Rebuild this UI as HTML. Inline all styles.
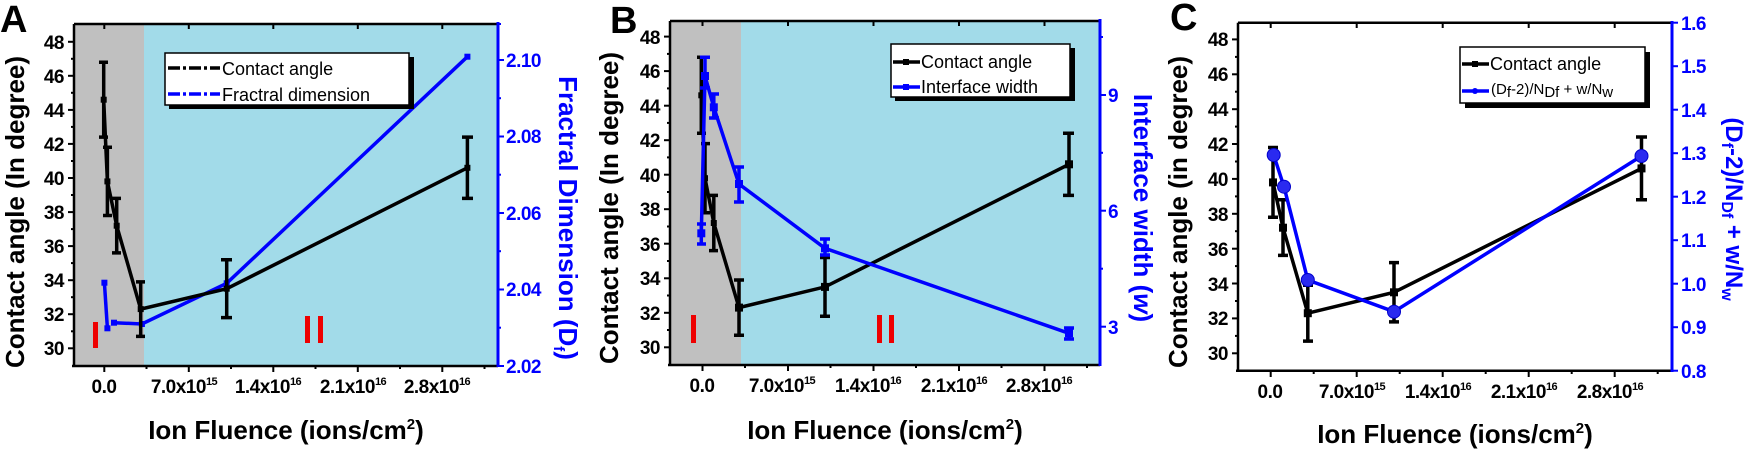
<!DOCTYPE html>
<html><head><meta charset="utf-8"><style>
html,body{margin:0;padding:0;background:#fff;}
svg{display:block;font-family:"Liberation Sans",Arial,sans-serif;}
.tk{font-size:19px;font-weight:bold;letter-spacing:-0.5px;}
.tt{font-size:26px;font-weight:bold;}
.lg{font-size:18px;}
</style></head><body>
<svg width="1750" height="449" viewBox="0 0 1750 449" xmlns="http://www.w3.org/2000/svg">
<!-- ================= PANEL A ================= -->
<rect x="74" y="24" width="70" height="342" fill="#c0c0c0"/>
<rect x="144" y="24" width="354" height="342" fill="#a2dbe9"/>
<text x="0" y="32" font-size="38" font-weight="bold">A</text>
<rect x="93" y="322" width="5" height="26" fill="#e00"/>
<rect x="305" y="316" width="5" height="27" fill="#e00"/>
<rect x="318" y="316" width="5" height="27" fill="#e00"/>
<g stroke="#000" stroke-width="2.5" fill="none">
<line x1="74" y1="24" x2="74" y2="367"/>
<line x1="72" y1="366" x2="498" y2="366"/>
<line x1="74" y1="24" x2="498" y2="24"/>
</g>
<line x1="498" y1="22" x2="498" y2="367" stroke="#00f" stroke-width="3"/>
<g stroke="#000" stroke-width="2">
<line x1="68" y1="348.3" x2="74" y2="348.3"/><line x1="68" y1="314.2" x2="74" y2="314.2"/><line x1="68" y1="280.2" x2="74" y2="280.2"/><line x1="68" y1="246.1" x2="74" y2="246.1"/><line x1="68" y1="212.1" x2="74" y2="212.1"/><line x1="68" y1="178" x2="74" y2="178"/><line x1="68" y1="143.9" x2="74" y2="143.9"/><line x1="68" y1="109.9" x2="74" y2="109.9"/><line x1="68" y1="75.8" x2="74" y2="75.8"/><line x1="68" y1="41.8" x2="74" y2="41.8"/>
<line x1="71" y1="331.3" x2="74" y2="331.3"/><line x1="71" y1="297.2" x2="74" y2="297.2"/><line x1="71" y1="263.1" x2="74" y2="263.1"/><line x1="71" y1="229.1" x2="74" y2="229.1"/><line x1="71" y1="195" x2="74" y2="195"/><line x1="71" y1="161" x2="74" y2="161"/><line x1="71" y1="126.9" x2="74" y2="126.9"/><line x1="71" y1="92.8" x2="74" y2="92.8"/><line x1="71" y1="58.8" x2="74" y2="58.8"/>
<line x1="104.3" y1="366" x2="104.3" y2="372"/><line x1="188.8" y1="366" x2="188.8" y2="372"/><line x1="273.3" y1="366" x2="273.3" y2="372"/><line x1="357.8" y1="366" x2="357.8" y2="372"/><line x1="442.3" y1="366" x2="442.3" y2="372"/>
<line x1="146.5" y1="366" x2="146.5" y2="369"/><line x1="231" y1="366" x2="231" y2="369"/><line x1="315.5" y1="366" x2="315.5" y2="369"/><line x1="400" y1="366" x2="400" y2="369"/><line x1="484.5" y1="366" x2="484.5" y2="369"/>
<line x1="104.3" y1="24" x2="104.3" y2="29"/><line x1="188.8" y1="24" x2="188.8" y2="29"/><line x1="273.3" y1="24" x2="273.3" y2="29"/><line x1="357.8" y1="24" x2="357.8" y2="29"/><line x1="442.3" y1="24" x2="442.3" y2="29"/>
</g>
<g stroke="#00f" stroke-width="2">
<line x1="498" y1="366" x2="504" y2="366"/><line x1="498" y1="289.5" x2="504" y2="289.5"/><line x1="498" y1="213" x2="504" y2="213"/><line x1="498" y1="136.5" x2="504" y2="136.5"/><line x1="498" y1="60" x2="504" y2="60"/>
<line x1="498" y1="327.7" x2="501" y2="327.7"/><line x1="498" y1="251.2" x2="501" y2="251.2"/><line x1="498" y1="174.7" x2="501" y2="174.7"/><line x1="498" y1="98.2" x2="501" y2="98.2"/><line x1="498" y1="24" x2="501" y2="24"/>
</g>
<g class="tk" text-anchor="end">
<text x="64" y="355">30</text><text x="64" y="321">32</text><text x="64" y="287">34</text><text x="64" y="253">36</text><text x="64" y="219">38</text><text x="64" y="185">40</text><text x="64" y="151">42</text><text x="64" y="117">44</text><text x="64" y="83">46</text><text x="64" y="49">48</text>
</g>
<g class="tk" fill="#00f">
<text x="506" y="373">2.02</text><text x="506" y="296">2.04</text><text x="506" y="220">2.06</text><text x="506" y="143">2.08</text><text x="506" y="67">2.10</text>
</g>
<g class="tk" text-anchor="middle">
<text x="104" y="393">0.0</text>
<text x="184" y="393">7.0x10<tspan font-size="11" dy="-8">15</tspan></text>
<text x="268" y="393">1.4x10<tspan font-size="11" dy="-8">16</tspan></text>
<text x="353" y="393">2.1x10<tspan font-size="11" dy="-8">16</tspan></text>
<text x="437" y="393">2.8x10<tspan font-size="11" dy="-8">16</tspan></text>
</g>
<text class="tt" x="286" y="439" text-anchor="middle">Ion Fluence (ions/cm<tspan font-size="15" dy="-10">2</tspan><tspan dy="10">)</tspan></text>
<text class="tt" transform="translate(24,212) rotate(-90)" text-anchor="middle">Contact angle (In degree)</text>
<text class="tt" fill="#00f" transform="translate(559,218) rotate(90)" text-anchor="middle">Fractral Dimension (D<tspan font-size="15" dy="5">f</tspan><tspan dy="-5">)</tspan></text>
<g stroke="#00f" stroke-width="3.5" fill="none">
<polyline points="104.4,282.7 107.4,328.3"/>
<polyline points="114,322.7 141.9,324 226.7,283.3 467.4,56.7"/>
</g>
<g fill="#00f"><rect x="101.4" y="279.7" width="6" height="6"/><rect x="104.4" y="325.3" width="6" height="6"/><rect x="111" y="319.7" width="6" height="6"/><rect x="138.9" y="321" width="6" height="6"/><rect x="223.7" y="280.3" width="6" height="6"/><rect x="464.4" y="53.7" width="6" height="6"/></g>
<g stroke="#000" stroke-width="3.5" fill="none">
<polyline points="103.7,99.7 107.4,181.4 116.7,225.7 140.7,309.1 226.7,288.7 467.4,167.8"/>
<path d="M103.7,62.2V137.1M99,62.2h9M99,137.1h9 M107.4,147.3V215.5M103,147.3h9M103,215.5h9 M116.7,198.4V252.9M112,198.4h9M112,252.9h9 M140.7,281.9V336.4M136,281.9h9M136,336.4h9 M226.7,259.7V317.6M221,259.7h11M221,317.6h11 M467.4,137.1V198.4M462,137.1h11M462,198.4h11"/>
</g>
<g fill="#000"><rect x="100.7" y="96.7" width="6" height="6"/><rect x="104.4" y="178.4" width="6" height="6"/><rect x="113.7" y="222.7" width="6" height="6"/><rect x="137.7" y="306.1" width="6" height="6"/><rect x="223.7" y="285.7" width="6" height="6"/><rect x="464.4" y="164.8" width="6" height="6"/></g>
<rect x="169" y="57" width="245" height="52" fill="#000"/>
<rect x="165" y="53" width="244" height="52" fill="#fff" stroke="#000" stroke-width="1.5"/>
<line x1="168" y1="68" x2="220" y2="68" stroke="#000" stroke-width="3.5" stroke-dasharray="12,3,3,3"/>
<line x1="168" y1="94" x2="220" y2="94" stroke="#00f" stroke-width="3.5" stroke-dasharray="12,3,3,3"/>
<text class="lg" x="222" y="75">Contact angle</text>
<text class="lg" x="222" y="101">Fractral dimension</text>

<!-- ================= PANEL B ================= -->
<rect x="670" y="21" width="71" height="344" fill="#c0c0c0"/>
<rect x="741" y="21" width="359" height="344" fill="#a2dbe9"/>
<text x="610" y="33" font-size="38" font-weight="bold">B</text>
<rect x="691" y="315" width="5" height="28" fill="#e00"/>
<rect x="877" y="315" width="5" height="28" fill="#e00"/>
<rect x="889" y="315" width="5" height="28" fill="#e00"/>
<g stroke="#000" stroke-width="2.5" fill="none">
<line x1="670" y1="21" x2="670" y2="366"/>
<line x1="668" y1="365" x2="1100" y2="365"/>
<line x1="670" y1="21" x2="1100" y2="21"/>
</g>
<line x1="1100" y1="19" x2="1100" y2="366" stroke="#00f" stroke-width="3"/>
<g stroke="#000" stroke-width="2">
<line x1="664" y1="347.3" x2="670" y2="347.3"/><line x1="664" y1="312.8" x2="670" y2="312.8"/><line x1="664" y1="278.3" x2="670" y2="278.3"/><line x1="664" y1="243.7" x2="670" y2="243.7"/><line x1="664" y1="209.2" x2="670" y2="209.2"/><line x1="664" y1="174.7" x2="670" y2="174.7"/><line x1="664" y1="140.2" x2="670" y2="140.2"/><line x1="664" y1="105.7" x2="670" y2="105.7"/><line x1="664" y1="71.1" x2="670" y2="71.1"/><line x1="664" y1="36.6" x2="670" y2="36.6"/>
<line x1="667" y1="330" x2="670" y2="330"/><line x1="667" y1="295.5" x2="670" y2="295.5"/><line x1="667" y1="261" x2="670" y2="261"/><line x1="667" y1="226.5" x2="670" y2="226.5"/><line x1="667" y1="192" x2="670" y2="192"/><line x1="667" y1="157.4" x2="670" y2="157.4"/><line x1="667" y1="122.9" x2="670" y2="122.9"/><line x1="667" y1="88.4" x2="670" y2="88.4"/><line x1="667" y1="53.9" x2="670" y2="53.9"/>
<line x1="702.5" y1="365" x2="702.5" y2="371"/><line x1="788" y1="365" x2="788" y2="371"/><line x1="873.5" y1="365" x2="873.5" y2="371"/><line x1="959" y1="365" x2="959" y2="371"/><line x1="1044.5" y1="365" x2="1044.5" y2="371"/>
<line x1="745" y1="365" x2="745" y2="368"/><line x1="830.5" y1="365" x2="830.5" y2="368"/><line x1="916" y1="365" x2="916" y2="368"/><line x1="1001.5" y1="365" x2="1001.5" y2="368"/><line x1="1087" y1="365" x2="1087" y2="368"/>
<line x1="702.5" y1="21" x2="702.5" y2="26"/><line x1="788" y1="21" x2="788" y2="26"/><line x1="873.5" y1="21" x2="873.5" y2="26"/><line x1="959" y1="21" x2="959" y2="26"/><line x1="1044.5" y1="21" x2="1044.5" y2="26"/>
</g>
<g stroke="#00f" stroke-width="2">
<line x1="1100" y1="326.7" x2="1106" y2="326.7"/><line x1="1100" y1="210.7" x2="1106" y2="210.7"/><line x1="1100" y1="95" x2="1106" y2="95"/>
<line x1="1100" y1="268.7" x2="1103" y2="268.7"/><line x1="1100" y1="152.8" x2="1103" y2="152.8"/><line x1="1100" y1="37" x2="1103" y2="37"/>
</g>
<g class="tk" text-anchor="end">
<text x="660" y="354">30</text><text x="660" y="320">32</text><text x="660" y="285">34</text><text x="660" y="251">36</text><text x="660" y="216">38</text><text x="660" y="182">40</text><text x="660" y="147">42</text><text x="660" y="113">44</text><text x="660" y="78">46</text><text x="660" y="44">48</text>
</g>
<g class="tk" fill="#00f">
<text x="1108" y="334">3</text><text x="1108" y="218">6</text><text x="1108" y="102">9</text>
</g>
<g class="tk" text-anchor="middle">
<text x="702" y="392">0.0</text>
<text x="782" y="392">7.0x10<tspan font-size="11" dy="-8">15</tspan></text>
<text x="868" y="392">1.4x10<tspan font-size="11" dy="-8">16</tspan></text>
<text x="954" y="392">2.1x10<tspan font-size="11" dy="-8">16</tspan></text>
<text x="1039" y="392">2.8x10<tspan font-size="11" dy="-8">16</tspan></text>
</g>
<text class="tt" x="885" y="439" text-anchor="middle">Ion Fluence (ions/cm<tspan font-size="15" dy="-10">2</tspan><tspan dy="10">)</tspan></text>
<text class="tt" transform="translate(618,208) rotate(-90)" text-anchor="middle">Contact angle (In degree)</text>
<text class="tt" fill="#00f" transform="translate(1134,208) rotate(90)" text-anchor="middle">Interface width (<tspan font-style="italic">w</tspan>)</text>
<g stroke="#000" stroke-width="3.5" fill="none">
<polyline points="701.3,95.3 705,178.2 713.8,223 739,307.6 825,286.9 1069,164.3"/>
<path d="M701.3,57.3V133.3M697,57.3h9M697,133.3h9 M705,143.6V212.7M701,143.6h9M701,212.7h9 M713.8,195.4V250.6M709,195.4h9M709,250.6h9 M739,280V335.2M734,280h10M734,335.2h10 M825,257.5V316.2M820,257.5h10M820,316.2h10 M1069,133.3V195.4M1063,133.3h11M1063,195.4h11"/>
</g>
<g fill="#000"><rect x="698.3" y="92.3" width="6" height="6"/><rect x="702" y="175.2" width="6" height="6"/><rect x="710.8" y="220" width="6" height="6"/><rect x="735" y="303.6" width="8" height="8"/><rect x="821" y="282.9" width="8" height="8"/><rect x="1065" y="160.3" width="8" height="8"/></g>
<g stroke="#00f" stroke-width="3.5" fill="none">
<polyline points="701.3,233.3 705,76 713.8,107.3 739,184 825,248.3 1069,333.3"/>
<path d="M701.3,224V244M697,224h9M697,244h9 M705,57.3V88M700,57.3h10M700,88h10 M713.8,94V118M709,94h10M709,118h10 M739,167V202M734,167h10M734,202h10 M825,239V255M820,239h10M820,255h10 M1069,328V339M1064,328h10M1064,339h10"/>
</g>
<g fill="#00f"><rect x="697.3" y="229.3" width="8" height="8"/><rect x="701" y="72" width="8" height="8"/><rect x="709.8" y="103.3" width="8" height="8"/><rect x="735" y="180" width="8" height="8"/><rect x="821" y="244.3" width="8" height="8"/><rect x="1065" y="329.3" width="8" height="8"/></g>
<rect x="895" y="48" width="180" height="53" fill="#000"/>
<rect x="891" y="44" width="179" height="53" fill="#fff" stroke="#000" stroke-width="1.5"/>
<line x1="893" y1="62" x2="920" y2="62" stroke="#000" stroke-width="3.5"/><rect x="903" y="59" width="6" height="6" fill="#000"/>
<line x1="893" y1="87" x2="920" y2="87" stroke="#00f" stroke-width="3.5"/><rect x="903" y="84" width="6" height="6" fill="#00f"/>
<text class="lg" x="921" y="68">Contact angle</text>
<text class="lg" x="921" y="93">Interface width</text>

<!-- ================= PANEL C ================= -->
<text x="1170" y="30" font-size="38" font-weight="bold">C</text>
<g stroke="#000" stroke-width="2.5" fill="none">
<line x1="1238" y1="22.7" x2="1238" y2="372"/>
<line x1="1236" y1="370.7" x2="1672" y2="370.7"/>
<line x1="1238" y1="22.7" x2="1672" y2="22.7"/>
</g>
<line x1="1672" y1="21" x2="1672" y2="372" stroke="#00f" stroke-width="3"/>
<g stroke="#000" stroke-width="2">
<line x1="1232" y1="353.3" x2="1238" y2="353.3"/><line x1="1232" y1="318.4" x2="1238" y2="318.4"/><line x1="1232" y1="283.5" x2="1238" y2="283.5"/><line x1="1232" y1="248.7" x2="1238" y2="248.7"/><line x1="1232" y1="213.8" x2="1238" y2="213.8"/><line x1="1232" y1="178.9" x2="1238" y2="178.9"/><line x1="1232" y1="144" x2="1238" y2="144"/><line x1="1232" y1="109.2" x2="1238" y2="109.2"/><line x1="1232" y1="74.3" x2="1238" y2="74.3"/><line x1="1232" y1="39.4" x2="1238" y2="39.4"/>
<line x1="1235" y1="335.9" x2="1238" y2="335.9"/><line x1="1235" y1="301" x2="1238" y2="301"/><line x1="1235" y1="266.1" x2="1238" y2="266.1"/><line x1="1235" y1="231.2" x2="1238" y2="231.2"/><line x1="1235" y1="196.4" x2="1238" y2="196.4"/><line x1="1235" y1="161.5" x2="1238" y2="161.5"/><line x1="1235" y1="126.6" x2="1238" y2="126.6"/><line x1="1235" y1="91.7" x2="1238" y2="91.7"/><line x1="1235" y1="56.9" x2="1238" y2="56.9"/>
<line x1="1270.7" y1="370.7" x2="1270.7" y2="377"/><line x1="1356.7" y1="370.7" x2="1356.7" y2="377"/><line x1="1442.7" y1="370.7" x2="1442.7" y2="377"/><line x1="1528.7" y1="370.7" x2="1528.7" y2="377"/><line x1="1614.7" y1="370.7" x2="1614.7" y2="377"/>
<line x1="1313.7" y1="370.7" x2="1313.7" y2="374"/><line x1="1399.7" y1="370.7" x2="1399.7" y2="374"/><line x1="1485.7" y1="370.7" x2="1485.7" y2="374"/><line x1="1571.7" y1="370.7" x2="1571.7" y2="374"/><line x1="1657.7" y1="370.7" x2="1657.7" y2="374"/>
<line x1="1270.7" y1="22.7" x2="1270.7" y2="28"/><line x1="1356.7" y1="22.7" x2="1356.7" y2="28"/><line x1="1442.7" y1="22.7" x2="1442.7" y2="28"/><line x1="1528.7" y1="22.7" x2="1528.7" y2="28"/><line x1="1614.7" y1="22.7" x2="1614.7" y2="28"/>
</g>
<g stroke="#00f" stroke-width="2">
<line x1="1672" y1="370.7" x2="1678" y2="370.7"/><line x1="1672" y1="327.2" x2="1678" y2="327.2"/><line x1="1672" y1="283.7" x2="1678" y2="283.7"/><line x1="1672" y1="240.2" x2="1678" y2="240.2"/><line x1="1672" y1="196.7" x2="1678" y2="196.7"/><line x1="1672" y1="153.2" x2="1678" y2="153.2"/><line x1="1672" y1="109.7" x2="1678" y2="109.7"/><line x1="1672" y1="66.2" x2="1678" y2="66.2"/><line x1="1672" y1="22.7" x2="1678" y2="22.7"/>
</g>
<g class="tk" text-anchor="end">
<text x="1228" y="360">30</text><text x="1228" y="325">32</text><text x="1228" y="291">34</text><text x="1228" y="256">36</text><text x="1228" y="221">38</text><text x="1228" y="186">40</text><text x="1228" y="151">42</text><text x="1228" y="116">44</text><text x="1228" y="81">46</text><text x="1228" y="46">48</text>
</g>
<g class="tk" fill="#00f">
<text x="1681" y="378">0.8</text><text x="1681" y="334">0.9</text><text x="1681" y="291">1.0</text><text x="1681" y="247">1.1</text><text x="1681" y="204">1.2</text><text x="1681" y="160">1.3</text><text x="1681" y="117">1.4</text><text x="1681" y="73">1.5</text><text x="1681" y="30">1.6</text>
</g>
<g class="tk" text-anchor="middle">
<text x="1270" y="398">0.0</text>
<text x="1352" y="398">7.0x10<tspan font-size="11" dy="-8">15</tspan></text>
<text x="1438" y="398">1.4x10<tspan font-size="11" dy="-8">16</tspan></text>
<text x="1524" y="398">2.1x10<tspan font-size="11" dy="-8">16</tspan></text>
<text x="1610" y="398">2.8x10<tspan font-size="11" dy="-8">16</tspan></text>
</g>
<text class="tt" x="1455" y="443" text-anchor="middle">Ion Fluence (ions/cm<tspan font-size="15" dy="-10">2</tspan><tspan dy="10">)</tspan></text>
<text class="tt" transform="translate(1187,212) rotate(-90)" text-anchor="middle">Contact angle (in degree)</text>
<text class="tt" fill="#00f" font-size="24" transform="translate(1726,209) rotate(90)" text-anchor="middle" style="font-size:24px">(D<tspan font-size="16" dy="4">f</tspan><tspan dy="-4">-2)/N</tspan><tspan font-size="16" dy="4">Df</tspan><tspan dy="-4"> + w/N</tspan><tspan font-size="16" dy="4">w</tspan></text>
<g stroke="#000" stroke-width="3.5" fill="none">
<polyline points="1273,182.4 1283,227.7 1307.8,313.2 1394,292.3 1641.5,168.4"/>
<path d="M1273,147.5V217.3M1268,147.5h10M1268,217.3h10 M1283,199.8V255.4M1278,199.8h10M1278,255.4h10 M1307.8,285.3V341.1M1303,285.3h10M1303,341.1h10 M1394,262.6V321.9M1389,262.6h10M1389,321.9h10 M1641.5,137V199.8M1636,137h11M1636,199.8h11"/>
</g>
<g fill="#000"><rect x="1269" y="178.4" width="8" height="8"/><rect x="1279" y="223.7" width="8" height="8"/><rect x="1303.8" y="309.2" width="8" height="8"/><rect x="1390" y="288.3" width="8" height="8"/><rect x="1637.5" y="164.4" width="8" height="8"/></g>
<polyline points="1273.7,155 1284,186.7 1307.8,280 1394,311.7 1641.5,156" stroke="#00f" stroke-width="3.5" fill="none"/>
<g fill="#2a2af0" stroke="#00c" stroke-width="1"><circle cx="1273.7" cy="155" r="6.5"/><circle cx="1284" cy="186.7" r="6.5"/><circle cx="1307.8" cy="280" r="6.5"/><circle cx="1394" cy="311.7" r="6.5"/><circle cx="1641.5" cy="156" r="6.5"/></g>
<rect x="1465" y="52" width="185" height="56" fill="#000"/>
<rect x="1460" y="47" width="185" height="56" fill="#fff" stroke="#000" stroke-width="1.5"/>
<line x1="1462" y1="64" x2="1489" y2="64" stroke="#000" stroke-width="3.5"/><rect x="1472" y="61" width="6" height="6" fill="#000"/>
<line x1="1462" y1="91" x2="1489" y2="91" stroke="#00f" stroke-width="3.5"/><circle cx="1475" cy="91" r="3" fill="#00f"/>
<text class="lg" x="1490" y="70">Contact angle</text>
<text x="1491" y="94" font-size="15">(D<tspan font-size="15" dy="3">f</tspan><tspan dy="-3">-2)/N</tspan><tspan dy="3">Df</tspan><tspan dy="-3">  + w/N</tspan><tspan dy="3">w</tspan></text>
</svg>
</body></html>
